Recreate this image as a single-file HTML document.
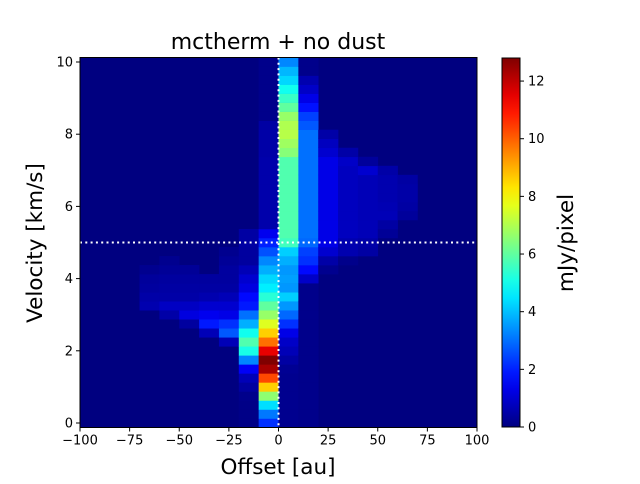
<!DOCTYPE html>
<html><head><meta charset="utf-8"><style>
body{margin:0;background:#fff;font-family:"DejaVu Sans",sans-serif}
svg text{font-family:"DejaVu Sans",sans-serif}
</style></head><body>
<svg id="c" width="640" height="480" xmlns="http://www.w3.org/2000/svg">
<text x="278" y="49" font-size="22" text-anchor="middle">mctherm + no dust</text>
<g id="cells"></g>
<g id="overlay"></g>
<g id="axes"></g>
<defs><linearGradient id="jet" x1="0" y1="1" x2="0" y2="0"></linearGradient></defs>
<rect x="502" y="58" width="18" height="369" fill="url(#jet)" stroke="#000" stroke-width="1"/>
<g id="cbar"></g>
<text x="0" y="0" font-size="21.5" transform="translate(573,243) rotate(-90)" text-anchor="middle">mJy/pixel</text>
<text x="278" y="474" font-size="21.5" text-anchor="middle">Offset [au]</text>
<text x="0" y="0" font-size="21.5" transform="translate(42,243) rotate(-90)" text-anchor="middle">Velocity [km/s]</text>
</svg>
<script>
// offsets (column centres, au) and velocity rows (km/s)
const offsets = [-95,-85,-75,-65,-55,-45,-35,-25,-15,-5,5,15,25,35,45,55,65,75,85,95];
const velocities = Array.from({length:41},(_,i)=>i*0.25);
// sparse column data: starting row index + values (mJy/pixel)
const col_m65 = {start:13, vals:[0.6,0.5,0.4,0.35,0.2]};
const col_m55 = {start:12, vals:[0.5,0.85,0.5,0.45,0.4,0.3,0.2]};
const col_m45 = {start:11, vals:[0.4,1.2,0.85,0.5,0.45,0.4,0.3]};
const col_m35 = {start:10, vals:[0.7,1.9,1.4,1.0,0.6,0.45,0.4]};
const col_m25 = {start:9, vals:[0.7,2.7,2.2,1.3,1.0,0.7,0.45,0.4,0.4,0.3,0.2]};
const col_m15 = {start:0, vals:[0.1,0.1,0.1,0.15,0.4,0.7,1.5,3.3,5.1,5.8,5.0,3.8,3.0,1.9,1.7,1.2,1.0,0.7,0.4,0.4,0.45,0.45]};
const col_m5 = {start:0, vals:[2.2,3.1,4.4,6.6,8.6,10.3,12.3,12.8,11.5,9.8,8.6,7.6,6.7,6.0,5.3,4.6,4.3,3.8,3.3,2.6,2.0,1.4,0.55,0.55,0.55,0.55,0.55,0.55,0.55,0.55,0.5,0.5,0.5,0.45,0.15,0.15,0.15,0.15,0.15,0.15,0.15]};
const col_p5 = {start:0, vals:[0.2,0.2,0.2,0.2,0.2,0.2,0.25,0.45,0.7,0.9,1.3,2.2,2.9,3.5,4.2,3.5,3.6,3.5,3.8,4.2,5.6,5.8,5.8,5.8,5.8,5.8,5.8,5.8,5.8,5.8,6.5,6.8,7.1,7.0,6.7,6.0,5.5,5.0,4.3,3.9,3.3]};
const col_p15 = {start:0, vals:[0.15,0.15,0.15,0.15,0.15,0.15,0.15,0.15,0.15,0.15,0.15,0.15,0.15,0.15,0.15,0.15,0.9,1.7,2.2,2.4,2.9,3.0,3.0,3.0,3.0,3.0,3.0,3.0,3.0,3.0,3.0,3.0,3.0,2.7,2.4,1.8,1.3,0.9,0.6,0.15,0.15]};
const col_p25 = {start:17, vals:[0.2,0.5,1.0,1.3,1.3,1.3,1.3,1.3,1.3,1.3,1.3,1.3,1.3,1.0,0.8,0.5]};
const col_p35 = {start:18, vals:[0.15,0.6,0.6,0.8,0.8,0.8,0.8,0.8,0.8,0.8,0.8,0.9,0.5]};
const col_p45 = {start:19, vals:[0.45,0.5,0.7,0.7,0.7,0.7,0.7,0.7,0.7,1.0,0.35]};
const col_p55 = {start:21, vals:[0.3,0.45,0.7,0.65,0.6,0.6,0.6,0.5]};
const col_p65 = {start:23, vals:[0.35,0.45,0.5,0.5,0.45]};
const columns = {"-65":col_m65,"-55":col_m55,"-45":col_m45,"-35":col_m35,"-25":col_m25,"-15":col_m15,"-5":col_m5,"5":col_p5,"15":col_p15,"25":col_p25,"35":col_p35,"45":col_p45,"55":col_p55,"65":col_p65};
const xTicks = [-100,-75,-50,-25,0,25,50,75,100];
const yTicks = [0,2,4,6,8,10];
const cTicks = [0,2,4,6,8,10,12];
const vmax = 12.8;

const NS="http://www.w3.org/2000/svg";
const X0=80,X1=477,Y0=427.5,Y1=57.5;
const xs=v=>X0+(v+100)/200*(X1-X0);
const ys=v=>Y0-(v+0.125)/10.25*(Y0-Y1);
const cs=v=>427-v/vmax*369;
function jet(t){t=Math.max(0,Math.min(1,t));const c=x=>Math.round(255*Math.max(0,Math.min(1,1.5-Math.abs(x))));return `rgb(${c(4*t-3)},${c(4*t-2)},${c(4*t-1)})`;}
function mk(tag,attrs,parent){const e=document.createElementNS(NS,tag);for(const k in attrs)e.setAttribute(k,attrs[k]);parent.appendChild(e);return e;}
const cells=document.getElementById('cells');
mk('rect',{x:X0,y:Y1,width:X1-X0,height:Y0-Y1,fill:jet(0)},cells);
offsets.forEach(o=>{
  const col=columns[String(o)];
  if(!col)return;
  col.vals.forEach((val,j)=>{
    const v=velocities[col.start+j];
    const r=mk('rect',{x:xs(o-5),y:ys(v+0.125),width:xs(o+5)-xs(o-5)+0.3,height:ys(v-0.125)-ys(v+0.125)+0.3,fill:jet(val/vmax)},cells);
    
    
  });
});
const ov=document.getElementById('overlay');
mk('line',{x1:xs(0),x2:xs(0),y1:Y1,y2:Y0,stroke:'#fff','stroke-width':2,'stroke-dasharray':'2,3.3'},ov);
mk('line',{x1:X0,x2:X1,y1:ys(5),y2:ys(5),stroke:'#fff','stroke-width':2,'stroke-dasharray':'2,3.3'},ov);
const ax=document.getElementById('axes');
mk('rect',{x:X0,y:Y1,width:X1-X0,height:Y0-Y1,fill:'none',stroke:'#000','stroke-width':1},ax);
xTicks.forEach(t=>{const x=xs(t);mk('line',{x1:x,x2:x,y1:Y0,y2:Y0+4,stroke:'#000'},ax);
  const tx=mk('text',{x:x,y:Y0+17,'font-size':13,'text-anchor':'middle'},ax);tx.textContent=(t<0?'\u2212':'')+Math.abs(t);
  });
yTicks.forEach(t=>{const y=ys(t);mk('line',{x1:X0-4,x2:X0,y1:y,y2:y,stroke:'#000'},ax);
  const tx=mk('text',{x:X0-7,y:y+4.5,'font-size':13,'text-anchor':'end'},ax);tx.textContent=t;
  });
const g=document.getElementById('jet');
for(let i=0;i<=20;i++){mk('stop',{offset:i/20,'stop-color':jet(i/20)},g);}
const cb=document.getElementById('cbar');
cTicks.forEach(t=>{const y=cs(t);mk('line',{x1:520,x2:524,y1:y,y2:y,stroke:'#000'},cb);
  const tx=mk('text',{x:528,y:y+4.5,'font-size':13},cb);tx.textContent=t;
  });
</script>
</body></html>
